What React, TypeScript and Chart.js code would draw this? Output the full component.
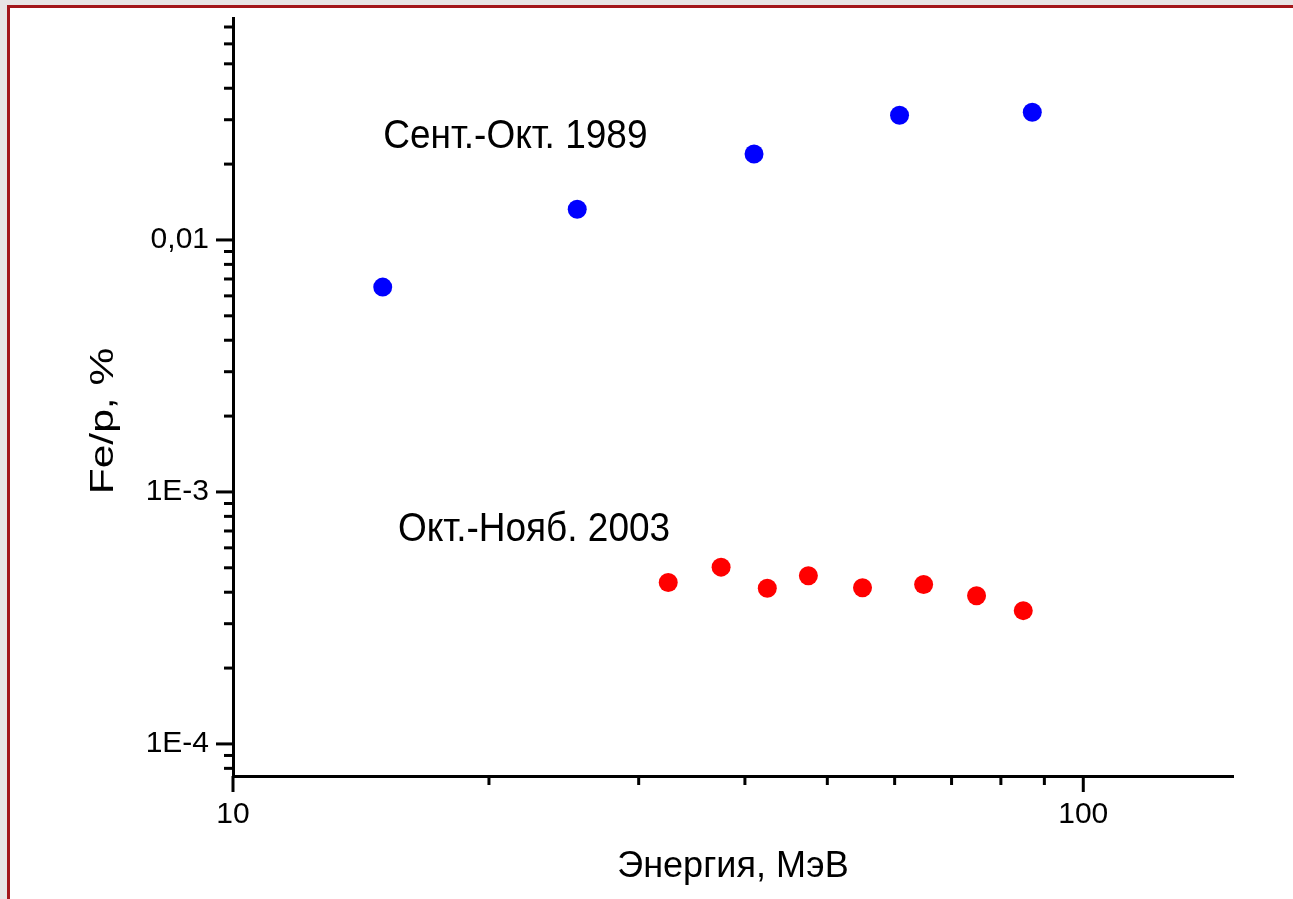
import React, { useEffect, useRef } from "react";
import { Chart, registerables } from "chart.js";

Chart.register(...registerables);

// ---- data ----
const energy1989 = [15.0, 25.4, 41.0, 60.8, 87.1];
const ratio1989 = [0.0065, 0.01324, 0.02194, 0.03125, 0.0321];
const energy2003 = [32.5, 37.5, 42.5, 47.5, 55.0, 64.9, 74.9, 85.0];
const ratio2003 = [4.37e-4, 5.03e-4, 4.15e-4, 4.65e-4, 4.17e-4, 4.29e-4, 3.87e-4, 3.38e-4];

const seriesLabels = ["Сент.-Окт. 1989", "Окт.-Нояб. 2003"];

const xRange = [10, 150];
const xMajorTicks = [10, 100];
const xTickLabels = ["10", "100"];
const xMinorTicks = [20, 30, 40, 50, 60, 70, 80, 90];

const yRange = [7.46e-5, 0.076];
const yMajorTicks = [1e-4, 1e-3, 0.01];
const yTickLabels = ["1E-4", "1E-3", "0,01"];
const yMinorTicks = [
  8e-5, 9e-5,
  2e-4, 3e-4, 4e-4, 5e-4, 6e-4, 7e-4, 8e-4, 9e-4,
  2e-3, 3e-3, 4e-3, 5e-3, 6e-3, 7e-3, 8e-3, 9e-3,
  0.02, 0.03, 0.04, 0.05, 0.06, 0.07,
];

const xTitle = "Энергия, МэВ";
const yTitle = "Fe/p, %";

const FONT = '"Liberation Sans", Arial, sans-serif';

export default function App() {
  const canvasRef = useRef<HTMLCanvasElement | null>(null);

  useEffect(() => {
    const canvas = canvasRef.current;
    if (!canvas) return;

    const decorPlugin = {
      id: "decor",
      afterDraw(chart: any) {
        const { ctx, scales } = chart;
        const x = scales.x;
        const y = scales.y;
        ctx.save();
        ctx.strokeStyle = "#000";
        ctx.lineWidth = 3;
        ctx.lineCap = "butt";
        const axisY = x.top;
        const axisX = y.right;
        const tickX = (v: number, len: number) => {
          const px = x.getPixelForValue(v);
          ctx.beginPath();
          ctx.moveTo(px, axisY);
          ctx.lineTo(px, axisY + len);
          ctx.stroke();
        };
        const tickY = (v: number, len: number) => {
          const py = y.getPixelForValue(v);
          ctx.beginPath();
          ctx.moveTo(axisX, py);
          ctx.lineTo(axisX - len, py);
          ctx.stroke();
        };
        xMajorTicks.forEach((v) => tickX(v, 16));
        xMinorTicks.forEach((v) => tickX(v, 9));
        yMajorTicks.forEach((v) => tickY(v, 17));
        yMinorTicks.forEach((v) => tickY(v, 9));

        // y-axis title (reference text is stretched along its length)
        ctx.fillStyle = "#000";
        ctx.font = `33px ${FONT}`;
        ctx.translate(113, 421);
        ctx.rotate(-Math.PI / 2);
        ctx.scale(1.29, 1);
        ctx.textAlign = "center";
        ctx.textBaseline = "alphabetic";
        ctx.fillText(yTitle, 0, 0);
        ctx.restore();

        // series annotations, anchored in data space
        const anchors = [
          { x: 15.02, y: 0.02318 },
          { x: 15.63, y: 6.39e-4 },
        ];
        seriesLabels.forEach((t, i) => {
          ctx.save();
          ctx.fillStyle = "#000";
          ctx.font = `37px ${FONT}`;
          ctx.textAlign = "left";
          ctx.textBaseline = "alphabetic";
          ctx.translate(x.getPixelForValue(anchors[i].x), y.getPixelForValue(anchors[i].y));
          ctx.scale(1, 1.1);
          ctx.fillText(t, 0, 0);
          ctx.restore();
        });
      },
    };

    const chart = new Chart(canvas, {
      type: "scatter",
      data: {
        datasets: [
          {
            label: seriesLabels[0],
            data: energy1989.map((e, i) => ({ x: e, y: ratio1989[i] })),
            backgroundColor: "#0000ff",
            borderWidth: 0,
            pointRadius: 9.5,
          },
          {
            label: seriesLabels[1],
            data: energy2003.map((e, i) => ({ x: e, y: ratio2003[i] })),
            backgroundColor: "#ff0000",
            borderWidth: 0,
            pointRadius: 9.5,
          },
        ],
      },
      options: {
        animation: false,
        responsive: false,
        maintainAspectRatio: false,
        layout: { padding: { top: 18, right: 60, left: 0, bottom: 0 } },
        plugins: {
          legend: { display: false },
          tooltip: { enabled: false },
        },
        scales: {
          x: {
            type: "logarithmic",
            position: "bottom",
            bounds: "data",
            min: xRange[0],
            max: xRange[1],
            afterBuildTicks: (s: any) => {
              s.min = xRange[0];
              s.max = xRange[1];
              s.ticks = xMajorTicks.map((v) => ({ value: v }));
            },
            afterFit: (s: any) => {
              s.height = 123;
              s.paddingLeft = 0;
              s.paddingRight = 0;
            },
            ticks: {
              autoSkip: false,
              maxRotation: 0,
              padding: 21,
              color: "#000",
              font: { family: FONT, size: 30 },
              callback: (_v: any, i: number) => xTickLabels[i],
            },
            grid: { display: false, drawTicks: false, drawOnChartArea: false },
            border: { display: true, color: "#000", width: 3 },
            title: {
              display: true,
              text: xTitle,
              color: "#000",
              font: { family: FONT, size: 36 },
              padding: { top: 0, bottom: 10 },
            },
          },
          y: {
            type: "logarithmic",
            position: "left",
            bounds: "data",
            min: yRange[0],
            max: yRange[1],
            afterBuildTicks: (s: any) => {
              s.min = yRange[0];
              s.max = yRange[1];
              s.ticks = yMajorTicks.map((v) => ({ value: v }));
            },
            afterFit: (s: any) => {
              s.width = 233;
              s.paddingTop = 0;
              s.paddingBottom = 0;
            },
            ticks: {
              autoSkip: false,
              padding: 24,
              color: "#000",
              font: { family: FONT, size: 30 },
              callback: (_v: any, i: number) => yTickLabels[i],
            },
            grid: { display: false, drawTicks: false, drawOnChartArea: false },
            border: { display: true, color: "#000", width: 3 },
          },
        },
      },
      plugins: [decorPlugin],
    } as any);

    return () => chart.destroy();
  }, []);

  return (
    <div
      style={{
        position: "absolute",
        left: 0,
        top: 0,
        width: 1293,
        height: 899,
        overflow: "hidden",
        background: "#e8e4e4",
      }}
    >
      <div
        style={{
          position: "absolute",
          left: 7,
          top: 5,
          width: 1400,
          height: 1000,
          borderLeft: "3px solid #a3161a",
          borderTop: "3px solid #a3161a",
          background: "#ffffff",
        }}
      />
      <canvas
        ref={canvasRef}
        width={1293}
        height={899}
        style={{ position: "absolute", left: 0, top: 0, width: 1293, height: 899 }}
      />
    </div>
  );
}
